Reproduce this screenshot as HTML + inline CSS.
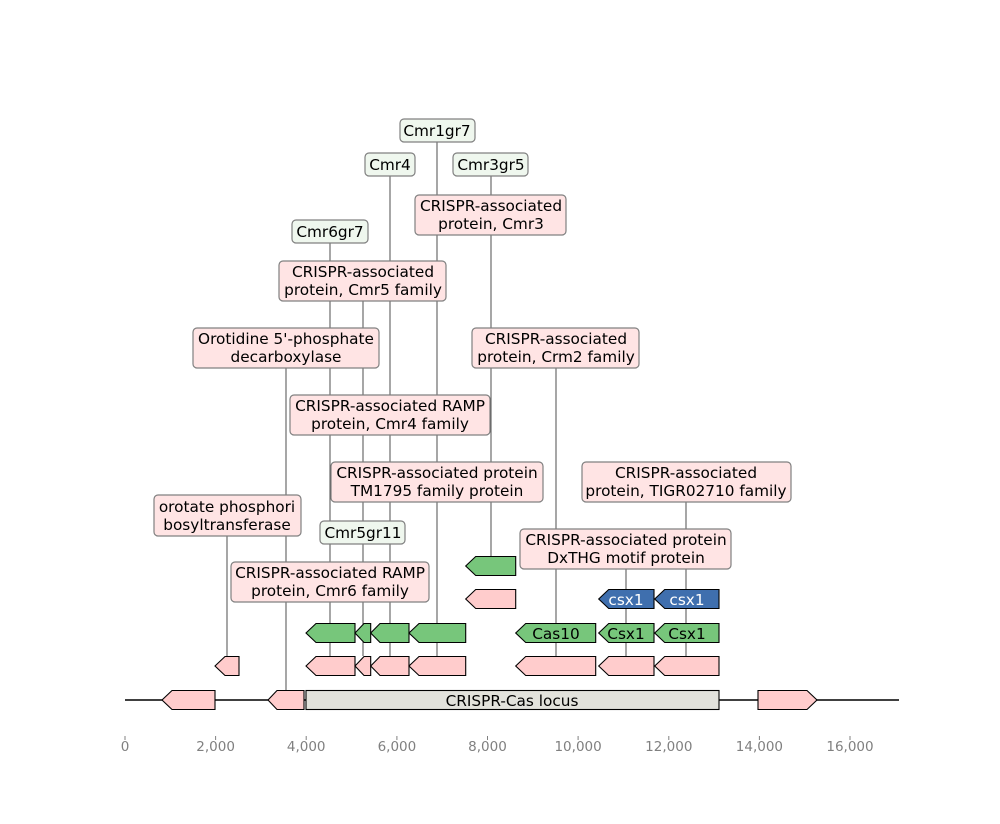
<!DOCTYPE html>
<html><head><meta charset="utf-8"><style>
body{margin:0;background:#fff}
svg text{font-family:"DejaVu Sans","Liberation Sans",sans-serif;font-size:15.3px;fill:#000}
svg text.ax{font-size:13.5px;fill:#808080}
</style></head><body>
<svg width="1000" height="819" viewBox="0 0 1000 819" xmlns="http://www.w3.org/2000/svg">
<rect width="1000" height="819" fill="#fff"/>
<g stroke="#222" stroke-width="0.8">
<line x1="227" y1="666" x2="227" y2="520"/>
<line x1="286" y1="690" x2="286" y2="350"/>
<line x1="330" y1="656" x2="330" y2="231"/>
<line x1="363" y1="656" x2="363" y2="281"/>
<line x1="390" y1="656" x2="390" y2="164"/>
<line x1="437" y1="656" x2="437" y2="130"/>
<line x1="491" y1="566" x2="491" y2="164"/>
<line x1="556" y1="656" x2="556" y2="350"/>
<line x1="626" y1="656" x2="626" y2="550"/>
<line x1="686" y1="656" x2="686" y2="482"/>
</g>
<line x1="125" y1="700" x2="899" y2="700" stroke="#000" stroke-width="1.6"/>
<g stroke="#000" stroke-width="1.1">
<polygon points="162,700 172,690.5 215,690.5 215,709.5 172,709.5" fill="#ffcccc"/>
<polygon points="268,700 277,690.5 304,690.5 304,709.5 277,709.5" fill="#ffcccc"/>
<rect x="306" y="690.5" width="413" height="19" fill="#e2e2dc"/>
<polygon points="758,690.5 807,690.5 817,700 807,709.5 758,709.5" fill="#ffcccc"/>
<polygon points="215,666 225,656.5 239,656.5 239,675.5 225,675.5" fill="#ffcccc"/>
<polygon points="306,666 316,656.5 355,656.5 355,675.5 316,675.5" fill="#ffcccc"/>
<polygon points="355,666 364,656.5 370.7,656.5 370.7,675.5 364,675.5" fill="#ffcccc"/>
<polygon points="370.7,666 380,656.5 409,656.5 409,675.5 380,675.5" fill="#ffcccc"/>
<polygon points="409,666 419,656.5 465.7,656.5 465.7,675.5 419,675.5" fill="#ffcccc"/>
<polygon points="515.7,666 525.7,656.5 595.7,656.5 595.7,675.5 525.7,675.5" fill="#ffcccc"/>
<polygon points="598.7,666 608.7,656.5 654,656.5 654,675.5 608.7,675.5" fill="#ffcccc"/>
<polygon points="654.7,666 664.7,656.5 719,656.5 719,675.5 664.7,675.5" fill="#ffcccc"/>
<polygon points="306,633 316,623.5 355,623.5 355,642.5 316,642.5" fill="#77c67b"/>
<polygon points="355,633 364,623.5 370.7,623.5 370.7,642.5 364,642.5" fill="#77c67b"/>
<polygon points="370.7,633 380,623.5 409,623.5 409,642.5 380,642.5" fill="#77c67b"/>
<polygon points="409,633 419,623.5 465.7,623.5 465.7,642.5 419,642.5" fill="#77c67b"/>
<polygon points="515.7,633 525.7,623.5 595.7,623.5 595.7,642.5 525.7,642.5" fill="#77c67b"/>
<polygon points="598.7,633 608.7,623.5 654,623.5 654,642.5 608.7,642.5" fill="#77c67b"/>
<polygon points="654.7,633 664.7,623.5 719,623.5 719,642.5 664.7,642.5" fill="#77c67b"/>
<polygon points="465.7,599 475.7,589.5 515.7,589.5 515.7,608.5 475.7,608.5" fill="#ffcccc"/>
<polygon points="598.7,599 608.7,589.5 654,589.5 654,608.5 608.7,608.5" fill="#3f6fae"/>
<polygon points="654.7,599 664.7,589.5 719,589.5 719,608.5 664.7,608.5" fill="#3f6fae"/>
<polygon points="465.7,566 475.7,556.5 515.7,556.5 515.7,575.5 475.7,575.5" fill="#77c67b"/>
</g>
<g text-anchor="middle">
<text x="512" y="706">CRISPR-Cas locus</text>
<text x="556" y="639">Cas10</text>
<text x="626" y="639">Csx1</text>
<text x="687" y="639">Csx1</text>
<text x="626" y="605" style="fill:#fff">csx1</text>
<text x="687" y="605" style="fill:#fff">csx1</text>
</g>
<g stroke="#808080" stroke-width="1.2">
<rect x="400" y="119" width="75" height="23" rx="4" fill="#eff7ee"/>
<rect x="365" y="153" width="50" height="23" rx="4" fill="#eff7ee"/>
<rect x="453" y="153" width="75" height="23" rx="4" fill="#eff7ee"/>
<rect x="415" y="195" width="151" height="40" rx="4" fill="#ffe4e4"/>
<rect x="292" y="220" width="76" height="23" rx="4" fill="#eff7ee"/>
<rect x="279" y="261" width="167" height="40" rx="4" fill="#ffe4e4"/>
<rect x="193" y="328" width="186" height="40" rx="4" fill="#ffe4e4"/>
<rect x="472" y="328" width="167" height="40" rx="4" fill="#ffe4e4"/>
<rect x="290" y="395" width="200" height="40" rx="4" fill="#ffe4e4"/>
<rect x="331" y="462" width="212" height="40" rx="4" fill="#ffe4e4"/>
<rect x="582" y="462" width="209" height="40" rx="4" fill="#ffe4e4"/>
<rect x="154" y="495" width="147" height="41" rx="4" fill="#ffe4e4"/>
<rect x="320" y="521" width="85" height="23" rx="4" fill="#eff7ee"/>
<rect x="520" y="529" width="211" height="40" rx="4" fill="#ffe4e4"/>
<rect x="231" y="562" width="198" height="40" rx="4" fill="#ffe4e4"/>
</g>
<g text-anchor="middle">
<text x="437" y="136">Cmr1gr7</text>
<text x="390" y="170">Cmr4</text>
<text x="491" y="170">Cmr3gr5</text>
<text x="491" y="211">CRISPR-associated</text><text x="491" y="229">protein, Cmr3</text>
<text x="330" y="237">Cmr6gr7</text>
<text x="363" y="277">CRISPR-associated</text><text x="363" y="295">protein, Cmr5 family</text>
<text x="286" y="344">Orotidine 5'-phosphate</text><text x="286" y="362">decarboxylase</text>
<text x="556" y="344">CRISPR-associated</text><text x="556" y="362">protein, Crm2 family</text>
<text x="390" y="411">CRISPR-associated RAMP</text><text x="390" y="429">protein, Cmr4 family</text>
<text x="437" y="478">CRISPR-associated protein</text><text x="437" y="496">TM1795 family protein</text>
<text x="686" y="478">CRISPR-associated</text><text x="686" y="496">protein, TIGR02710 family</text>
<text x="227" y="512">orotate phosphori</text><text x="227" y="530">bosyltransferase</text>
<text x="363" y="538">Cmr5gr11</text>
<text x="626" y="545">CRISPR-associated protein</text><text x="626" y="563">DxTHG motif protein</text>
<text x="330" y="578">CRISPR-associated RAMP</text><text x="330" y="596">protein, Cmr6 family</text>
</g>
<g stroke="#808080" stroke-width="1">
<line x1="125" y1="736" x2="125" y2="740"/><line x1="215.6" y1="736" x2="215.6" y2="740"/>
<line x1="306.2" y1="736" x2="306.2" y2="740"/><line x1="396.9" y1="736" x2="396.9" y2="740"/>
<line x1="487.5" y1="736" x2="487.5" y2="740"/><line x1="578.1" y1="736" x2="578.1" y2="740"/>
<line x1="668.8" y1="736" x2="668.8" y2="740"/><line x1="759.4" y1="736" x2="759.4" y2="740"/>
<line x1="850" y1="736" x2="850" y2="740"/>
</g>
<g text-anchor="middle">
<text class="ax" x="125" y="751">0</text><text class="ax" x="215.6" y="751">2,000</text>
<text class="ax" x="306.2" y="751">4,000</text><text class="ax" x="396.9" y="751">6,000</text>
<text class="ax" x="487.5" y="751">8,000</text><text class="ax" x="578.1" y="751">10,000</text>
<text class="ax" x="668.8" y="751">12,000</text><text class="ax" x="759.4" y="751">14,000</text>
<text class="ax" x="850" y="751">16,000</text>
</g>
</svg>
</body></html>
